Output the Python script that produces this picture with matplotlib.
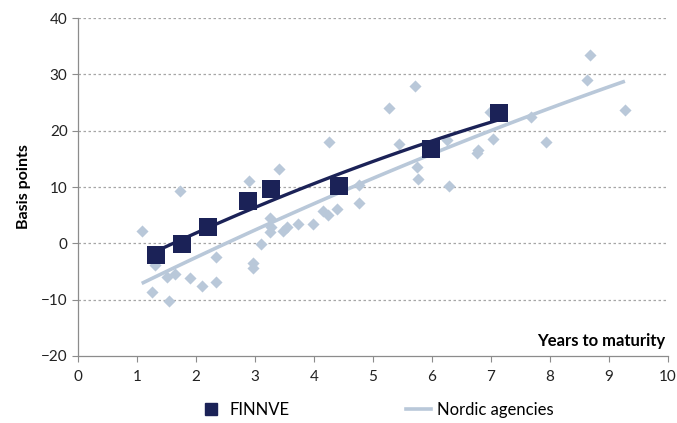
import numpy as np
import matplotlib
matplotlib.use("Agg")
import matplotlib.pyplot as plt
from matplotlib.lines import Line2D

plt.rcParams['font.family'] = ['Lato', 'DejaVu Sans']

# FINNVE bonds
finnve_years = [1.32, 1.77, 2.20, 2.88, 3.27, 4.42, 5.98, 7.14]
finnve_bp = [-2.1, -0.1, 2.9, 7.5, 9.6, 10.2, 16.7, 23.1]

# Nordic agencies bonds
nordic_years = [1.08, 1.25, 1.31, 1.51, 1.64, 1.54, 1.73, 1.90, 2.10, 2.34,
                2.34, 2.90, 2.97, 2.97, 3.10, 3.25, 3.27, 3.25, 3.41, 3.47,
                3.54, 3.73, 3.98, 4.15, 4.24, 4.25, 4.39, 4.76, 4.76, 5.27,
                5.44, 5.71, 5.75, 5.76, 6.25, 6.29, 6.76, 6.78, 6.98, 7.03,
                7.68, 7.93, 8.63, 8.68, 9.27]
nordic_bp = [2.2, -8.7, -3.9, -6.0, -5.5, -10.3, 9.3, -6.2, -7.6, -2.5,
             -6.9, 11.0, -3.5, -4.4, -0.1, 4.5, 2.9, 2.0, 13.2, 2.2,
             2.9, 3.4, 3.4, 5.7, 5.0, 18.0, 6.1, 10.3, 7.1, 24.0,
             17.6, 27.9, 13.5, 11.4, 18.3, 10.2, 16.0, 16.6, 23.3, 18.5,
             22.4, 18.0, 29.0, 33.4, 23.7]

navy = '#1b2257'
light = '#b9c8d9'
grey = '#8c8c8c'


def trend(x, y):
    c = np.polyfit(x, y, 2)
    xs = np.linspace(min(x), max(x), 100)
    return xs, np.polyval(c, xs)


fig = plt.figure(figsize=(6.77, 4.23), dpi=100)
ax = fig.add_axes([0.1152, 0.1584, 0.8715, 0.799])

ax.scatter(nordic_years, nordic_bp, marker='D', s=38, color=light, zorder=2, linewidths=0)
xs, ys = trend(nordic_years, nordic_bp)
ax.plot(xs, ys, color=light, lw=2.6, zorder=3, solid_capstyle='butt')

ax.scatter(finnve_years, finnve_bp, marker='s', s=150, color=navy, zorder=4, linewidths=0)
xs, ys = trend(finnve_years, finnve_bp)
ax.plot(xs, ys, color=navy, lw=2.4, zorder=5, solid_capstyle='butt')

ax.set_xlim(0, 10)
ax.set_ylim(-20, 40)
ax.set_xticks(range(0, 11))
ax.set_yticks(range(-20, 41, 10))
for v in range(-10, 41, 10):
    ax.axhline(v, color='#a6a6a6', lw=0.9, ls=(0, (2, 2)), zorder=1)

for s in ['top', 'right']:
    ax.spines[s].set_visible(False)
for s in ['left', 'bottom']:
    ax.spines[s].set_color(grey)
    ax.spines[s].set_linewidth(0.9)
ax.tick_params(axis='both', colors=grey, labelcolor='#222222', labelsize=11,
               length=4, width=0.8, direction='out')
ax.tick_params(axis='x', pad=6)

ax.set_ylabel('Basis points', fontsize=11.5, fontweight='bold', labelpad=7)
ax.text(9.95, -17.4, 'Years to maturity', fontsize=12, fontweight='bold',
        ha='right', va='center')

handles = [
    Line2D([], [], marker='s', ls='none', color=navy, markersize=8),
    Line2D([], [], color=light, lw=2.6),
]
fig.legend(handles, ['FINNVE', 'Nordic agencies'], loc='center',
           bbox_to_anchor=(0.555, 0.03), ncol=2, frameon=False, fontsize=12,
           columnspacing=7.0, handlelength=1.5, handletextpad=0.35)

fig.savefig('out.png', dpi=100)
